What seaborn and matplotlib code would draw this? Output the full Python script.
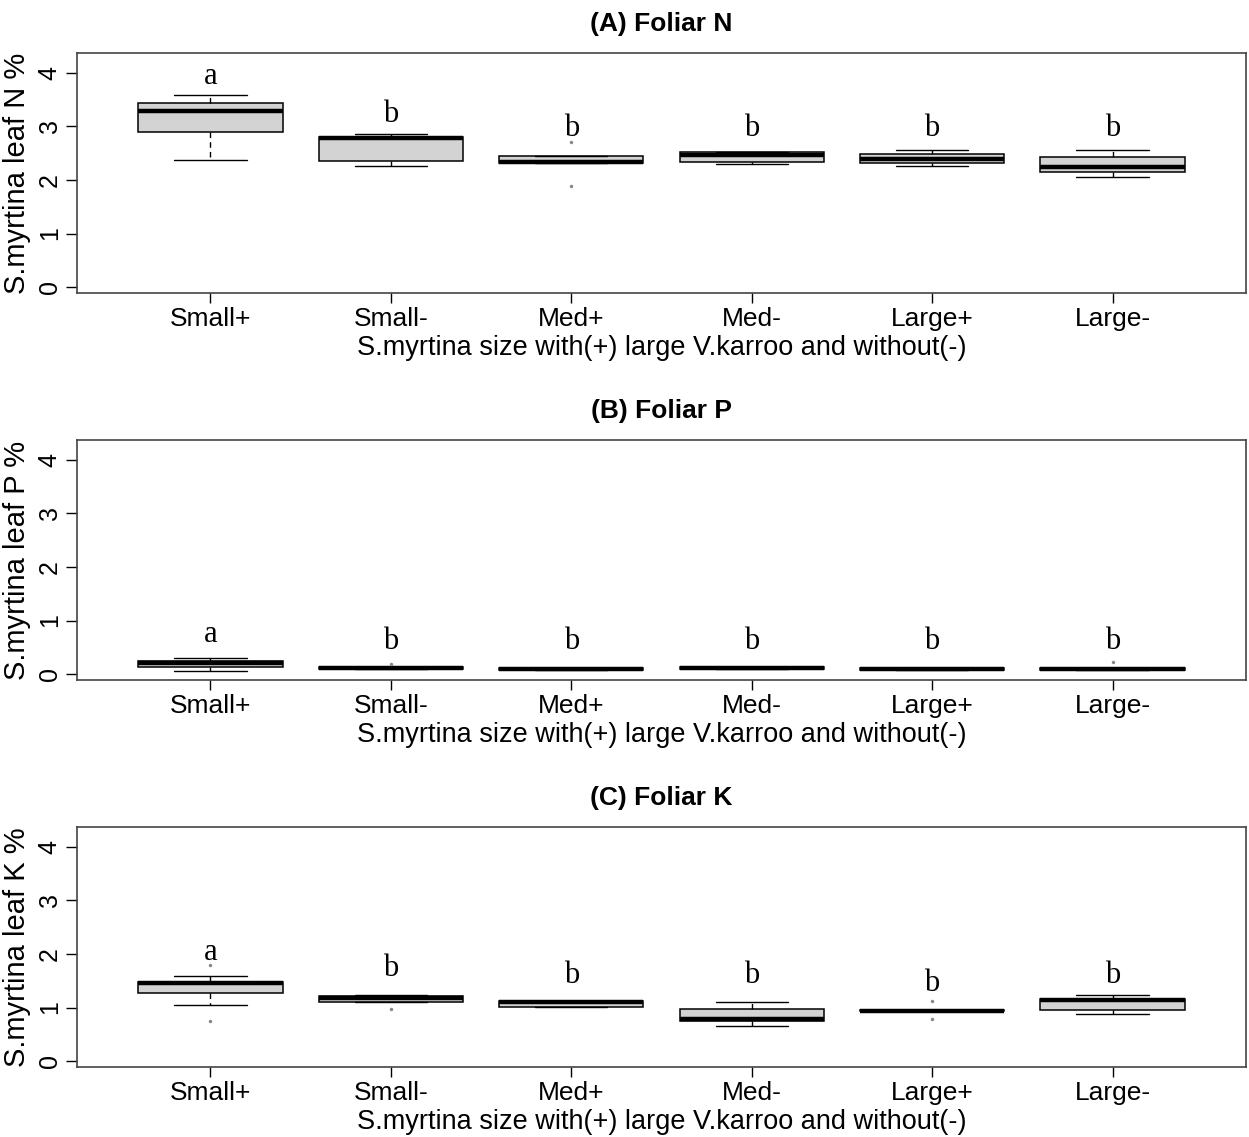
import numpy as np
import pandas as pd
import matplotlib
matplotlib.use("Agg")
import matplotlib.pyplot as plt
import seaborn as sns

categories = ["Small+", "Small-", "Med+", "Med-", "Large+", "Large-"]

# five-number summaries (min, Q1, median, Q3, max) per group
n_small_p = [2.37, 2.89, 3.29, 3.44, 3.58]
n_small_m = [2.27, 2.36, 2.79, 2.81, 2.86]
n_med_p = [2.31, 2.31, 2.34, 2.44, 2.44]
n_med_m = [2.29, 2.33, 2.47, 2.53, 2.53]
n_large_p = [2.27, 2.31, 2.39, 2.49, 2.56]
n_large_m = [2.06, 2.15, 2.24, 2.42, 2.56]
n_outlier_groups = ["Med+", "Med+"]
n_outlier_values = [2.70, 1.89]
n_letters = ["a", "b", "b", "b", "b", "b"]
n_letter_y = [3.94, 3.23, 2.96, 2.96, 2.96, 2.96]

p_small_p = [0.06, 0.14, 0.20, 0.25, 0.30]
p_small_m = [0.10, 0.10, 0.12, 0.14, 0.14]
p_med_p = [0.08, 0.08, 0.10, 0.11, 0.11]
p_med_m = [0.10, 0.10, 0.12, 0.14, 0.14]
p_large_p = [0.07, 0.07, 0.09, 0.11, 0.11]
p_large_m = [0.07, 0.07, 0.09, 0.11, 0.11]
p_outlier_groups = ["Small-", "Large-"]
p_outlier_values = [0.18, 0.23]
p_letters = ["a", "b", "b", "b", "b", "b"]
p_letter_y = [0.73, 0.60, 0.60, 0.60, 0.60, 0.60]

k_small_p = [1.04, 1.28, 1.45, 1.48, 1.59]
k_small_m = [1.11, 1.11, 1.18, 1.21, 1.23]
k_med_p = [1.01, 1.01, 1.10, 1.13, 1.13]
k_med_m = [0.66, 0.75, 0.79, 0.97, 1.10]
k_large_p = [0.93, 0.93, 0.94, 0.95, 0.95]
k_large_m = [0.88, 0.96, 1.14, 1.16, 1.23]
k_outlier_groups = ["Small+", "Small+", "Small-", "Large+", "Large+"]
k_outlier_values = [1.80, 0.75, 0.97, 1.13, 0.79]
k_letters = ["a", "b", "b", "b", "b", "b"]
k_letter_y = [2.02, 1.72, 1.59, 1.59, 1.44, 1.59]

titles = ["(A) Foliar N", "(B) Foliar P", "(C) Foliar K"]
ylabels = ["S.myrtina leaf N %", "S.myrtina leaf P %", "S.myrtina leaf K %"]
xlabel = "S.myrtina size with(+) large V.karroo and without(-)"
yticks = [0, 1, 2, 3, 4]

panels = [
    ([n_small_p, n_small_m, n_med_p, n_med_m, n_large_p, n_large_m],
     n_outlier_groups, n_outlier_values, n_letters, n_letter_y),
    ([p_small_p, p_small_m, p_med_p, p_med_m, p_large_p, p_large_m],
     p_outlier_groups, p_outlier_values, p_letters, p_letter_y),
    ([k_small_p, k_small_m, k_med_p, k_med_m, k_large_p, k_large_m],
     k_outlier_groups, k_outlier_values, k_letters, k_letter_y),
]

sns.set_style("white")
plt.rcParams["font.family"] = ["Liberation Sans", "DejaVu Sans"]

W, H = 1249, 1137
fig = plt.figure(figsize=(W / 100, H / 100), dpi=100)
fig.patch.set_facecolor("white")

left_px, right_px = 77, 1246
tops_px = [53, 440, 827]
height_px = 240

for i, (groups, og, ov, letters, ly) in enumerate(panels):
    top = tops_px[i]
    ax = fig.add_axes([left_px / W, (H - top - height_px) / H,
                       (right_px - left_px) / W, height_px / H])
    df = pd.DataFrame({
        "group": np.repeat(categories, 5),
        "value": np.concatenate(groups),
    })
    sns.boxplot(data=df, x="group", y="value", order=categories, ax=ax,
                whis=np.inf, width=0.8, saturation=1, color="#D3D3D3",
                linecolor="black", linewidth=1.1,
                medianprops=dict(color="black", linewidth=3.2),
                whiskerprops=dict(color="black", linewidth=1.0, linestyle=(0, (4, 3))),
                capprops=dict(color="black", linewidth=1.0),
                showfliers=False)
    odf = pd.DataFrame({"group": og, "value": ov})
    sns.stripplot(data=odf, x="group", y="value", order=categories, ax=ax,
                  jitter=False, color="#888888", size=2.5, linewidth=0)
    for j, (lt, yv) in enumerate(zip(letters, ly)):
        ax.text(j, yv, lt, ha="center", va="center", fontsize=22,
                family=["Liberation Serif", "DejaVu Serif"], color="black")
    ax.set_xlim(-0.74, 5.74)
    ax.set_ylim(-0.11, 4.37)
    ax.set_yticks(yticks)
    ax.set_yticklabels([str(t) for t in yticks])
    ax.tick_params(axis="y", labelrotation=90, direction="out", length=8,
                   width=1, pad=3, labelsize=18, colors="black", left=True)
    ax.tick_params(axis="x", direction="out", length=7, width=1, pad=3,
                   labelsize=19, colors="black", bottom=True)
    for lab in ax.get_yticklabels():
        lab.set_verticalalignment("center")
    for sp in ax.spines.values():
        sp.set_visible(True)
        sp.set_color("#444444")
        sp.set_linewidth(1.2)
    ax.set_xlabel(xlabel, fontsize=19.5, color="black")
    ax.xaxis.set_label_coords(0.5, -0.175)
    ax.set_ylabel(ylabels[i], fontsize=21, color="black")
    ax.yaxis.set_label_coords(-0.039, 0.5)
    ax.set_title(titles[i], fontsize=19, fontweight="bold", pad=16, color="black")

fig.savefig("out.png", dpi=100, facecolor="white")
